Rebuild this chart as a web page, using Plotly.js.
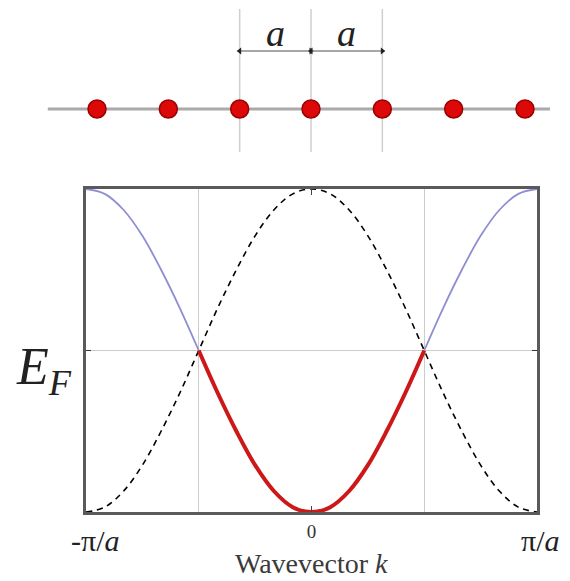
<!DOCTYPE html>
<html>
<head>
<meta charset="utf-8">
<script src="https://cdn.plot.ly/plotly-3.0.1.min.js"></script>
<style>
  html, body { margin: 0; padding: 0; background: #fff; }
  #chart { width: 570px; height: 581px; }
</style>
</head>
<body>
<div id="chart"></div>
<script>
// 1D chain: atom sites in units of the lattice constant a
const siteIndex = [-3, -2, -1, 0, 1, 2, 3];
const siteLevel = [0, 0, 0, 0, 0, 0, 0];
const chainEnds = [-3.69, 3.35];
const markerSites = [-1, 0, 1];
const markerSpan = [-1.075, 2.5];
const spacingPairs = [[-1, 0], [0, 1]];
const arrowLevel = 1.45;
const labelLevel = 1.9;

// Band energies, k in units of pi/a, E relative to E_F
const kOuterLeft = [-1.000, -0.917, -0.833, -0.750, -0.667, -0.583, -0.500];
const eOuterLeft = [1.00, 0.97, 0.87, 0.71, 0.50, 0.26, 0.00];
const kOuterRight = [0.500, 0.583, 0.667, 0.750, 0.833, 0.917, 1.000];
const eOuterRight = [0.00, 0.26, 0.50, 0.71, 0.87, 0.97, 1.00];
const kFilled = [-0.500, -0.417, -0.333, -0.250, -0.167, -0.083, 0.000,
                 0.083, 0.167, 0.250, 0.333, 0.417, 0.500];
const eFilled = [0.00, -0.26, -0.50, -0.71, -0.87, -0.97, -1.00,
                 -0.97, -0.87, -0.71, -0.50, -0.26, 0.00];
const kFolded = [-1.000, -0.917, -0.833, -0.750, -0.667, -0.583, -0.500,
                 -0.417, -0.333, -0.250, -0.167, -0.083, 0.000,
                 0.083, 0.167, 0.250, 0.333, 0.417, 0.500,
                 0.583, 0.667, 0.750, 0.833, 0.917, 1.000];
const eFolded = [-1.00, -0.97, -0.87, -0.71, -0.50, -0.26, 0.00,
                 0.26, 0.50, 0.71, 0.87, 0.97, 1.00,
                 0.97, 0.87, 0.71, 0.50, 0.26, 0.00,
                 -0.26, -0.50, -0.71, -0.87, -0.97, -1.00];
const fermiK = [-0.5, 0.5];
const xTickVals = [0];
const xTickText = ['0'];
const zoneEdgeLabels = ['-π/<i>a</i>', 'π/<i>a</i>'];
const zoneEdges = [-1, 1];
const spacingLabel = '<i>a</i>';

const W = 570, H = 581;
const serif = 'Liberation Serif, DejaVu Serif, serif';

// vertical guide lines through the three central sites
const guideX = [], guideY = [];
markerSites.forEach(s => { guideX.push(s, s, null); guideY.push(markerSpan[0], markerSpan[1], null); });

const traces = [
  { x: chainEnds, y: [0, 0], xaxis: 'x2', yaxis: 'y2', mode: 'lines',
    line: { color: '#aaaaaa', width: 3 }, hoverinfo: 'skip' },
  { x: guideX, y: guideY, xaxis: 'x2', yaxis: 'y2', mode: 'lines',
    line: { color: '#cfcfcf', width: 1.5 }, hoverinfo: 'skip' }
];
// double-headed spacing arrows
spacingPairs.forEach(([a0, a1]) => {
  traces.push({
    x: [a0, a1], y: [arrowLevel, arrowLevel], xaxis: 'x2', yaxis: 'y2',
    mode: 'lines+markers', cliponaxis: false,
    line: { color: '#8a8a8a', width: 1.5 },
    marker: { symbol: ['triangle-left', 'triangle-right'], size: 6, color: '#222' }
  });
});
traces.push(
  { x: siteIndex, y: siteLevel, xaxis: 'x2', yaxis: 'y2', mode: 'markers',
    marker: { size: 18, color: '#dd0808', line: { color: '#9a0000', width: 1.5 } } },

  { x: kFolded, y: eFolded, mode: 'lines',
    line: { color: '#000', width: 1.6, dash: '6px,5px', shape: 'spline' } },
  { x: kOuterLeft, y: eOuterLeft, mode: 'lines',
    line: { color: '#8e8ed2', width: 1.8, shape: 'spline' } },
  { x: kOuterRight, y: eOuterRight, mode: 'lines',
    line: { color: '#8e8ed2', width: 1.8, shape: 'spline' } },
  { x: kFilled, y: eFilled, mode: 'lines',
    line: { color: '#cc1818', width: 4, shape: 'spline' } }
);

const annotations = [];
// lattice spacing labels
spacingPairs.forEach(([a0, a1]) => {
  annotations.push({
    xref: 'x2', yref: 'y2', x: (a0 + a1) / 2, y: labelLevel, text: spacingLabel,
    showarrow: false, font: { family: serif, size: 38, color: '#222' }
  });
});
// zone-edge labels
zoneEdges.forEach((k, i) => {
  annotations.push({
    xref: 'x', yref: 'paper', x: k, y: (H - 540) / H, yanchor: 'middle',
    xshift: i === 0 ? 9 : 3, text: zoneEdgeLabels[i], showarrow: false,
    font: { family: serif, size: 30, color: '#222' }
  });
});
// axis title
annotations.push({
  xref: 'x', yref: 'paper', x: 0, y: (H - 563) / H, yanchor: 'middle',
  text: 'Wavevector <i>k</i>', showarrow: false,
  font: { family: serif, size: 28, color: '#3a3a3a' }
});
// Fermi level label
annotations.push({
  xref: 'paper', yref: 'paper', x: 14 / W, y: (H - 370) / H, xanchor: 'left', yanchor: 'middle',
  text: '<i>E</i><sub><i>F</i></sub>', showarrow: false,
  font: { family: serif, size: 52, color: '#222' }
});

const layout = {
  width: W, height: H,
  margin: { l: 0, r: 0, t: 0, b: 0 },
  paper_bgcolor: '#fff', plot_bgcolor: '#fff',
  showlegend: false,
  xaxis: {
    domain: [86 / W, 537 / W], range: [-1, 1], anchor: 'y',
    tickmode: 'array', tickvals: xTickVals, ticktext: xTickText,
    ticks: 'inside', ticklen: 6, tickwidth: 1.5, tickcolor: '#444',
    showline: true, linecolor: '#5a5a5a', linewidth: 3, mirror: 'ticks',
    showgrid: false, zeroline: false,
    tickfont: { family: serif, size: 19, color: '#333' },
    minor: { tickmode: 'array', tickvals: fermiK, showgrid: true, gridcolor: '#cccccc', gridwidth: 1, ticks: '' }
  },
  yaxis: {
    domain: [(H - 512) / H, (H - 189) / H], range: [-1, 1], anchor: 'x',
    tickmode: 'array', tickvals: [0], showticklabels: false,
    ticks: 'inside', ticklen: 5, tickwidth: 1.5, tickcolor: '#333',
    showline: true, linecolor: '#5a5a5a', linewidth: 3, mirror: 'ticks',
    showgrid: true, gridcolor: '#cccccc', gridwidth: 1, zeroline: false
  },
  xaxis2: {
    domain: [0, 1], range: [-311 / 71.33, (W - 311) / 71.33], anchor: 'y2', visible: false
  },
  yaxis2: {
    domain: [1 - 160 / H, 1], range: [-1.275, 2.725], anchor: 'x2', visible: false
  },
  annotations: annotations
};

Plotly.newPlot('chart', traces, layout, { displayModeBar: false, staticPlot: true });
</script>
</body>
</html>
